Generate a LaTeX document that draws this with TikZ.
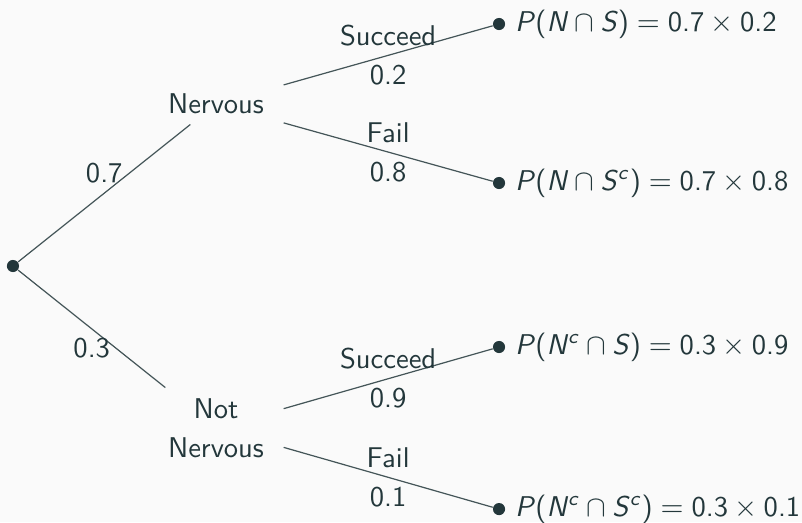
\documentclass[tikz,border=0pt]{standalone}
\usepackage{tikz}
\usetikzlibrary{positioning}
\definecolor{mDarkTeal}{HTML}{23373B}
\definecolor{mBack}{HTML}{FAFAFA}
\newcommand{\ev}[1]{\textsl{#1}}
\newcommand{\evc}[1]{\textsl{#1}\textsuperscript{\textsl{c}}}
\newcommand{\prob}[4]{\ev{P}(#1\:$\cap$\:#2)\;$=$\;#3\:$\times$\:#4}

\begin{document}
\begin{tikzpicture}[font={\sffamily\fontsize{10.6pt}{14.4pt}\selectfont},color=mDarkTeal,
	state/.style={minimum width=1.75cm,minimum height=0.52cm,align=center,inner sep=0pt},
	dot/.style={circle,fill=mDarkTeal,inner sep=0pt,minimum size=4.5pt},
	branch/.style={draw=mDarkTeal!85,line width=0.45pt}]
	\useasboundingbox (0,0) rectangle (10.456,6.806);
	\fill[mBack] (0,0) rectangle (10.456,6.806);
	% tree nodes
	\node[dot] (root) at (0.169,3.338) {};
	\node[state] (nerv) at (2.816,5.450) {Nervous};
	\node[state,minimum height=1.04cm] (notnerv) at (2.816,1.226) {Not\\Nervous};
	\node[dot] (l1) at (6.506,6.493) {}; \node[dot] (l2) at (6.506,4.420) {};
	\node[dot] (l3) at (6.506,2.282) {}; \node[dot] (l4) at (6.506,0.169) {};
	\node[right=0pt of l1] (t1) {\prob{\ev{N}}{\ev{S}}{0.7}{0.2}};
	\node[right=0pt of l2] (t2) {\prob{\ev{N}}{\evc{S}}{0.7}{0.8}};
	\node[right=0pt of l3] (t3) {\prob{\evc{N}}{\ev{S}}{0.3}{0.9}};
	\node[right=0pt of l4] (t4) {\prob{\evc{N}}{\evc{S}}{0.3}{0.1}};
	% branches
	\draw[branch] (root) -- node[above]{0.7} (nerv);
	\draw[branch] (root) -- node[below]{0.3} (notnerv);
	\draw[branch] (nerv) -- node[above]{Succeed} node[below]{0.2} (l1);
	\draw[branch] (nerv) -- node[above]{Fail} node[below]{0.8} (l2);
	\draw[branch] (notnerv) -- node[above]{Succeed} node[below]{0.9} (l3);
	\draw[branch] (notnerv) -- node[above]{Fail} node[below]{0.1} (l4);
\end{tikzpicture}
\end{document}
